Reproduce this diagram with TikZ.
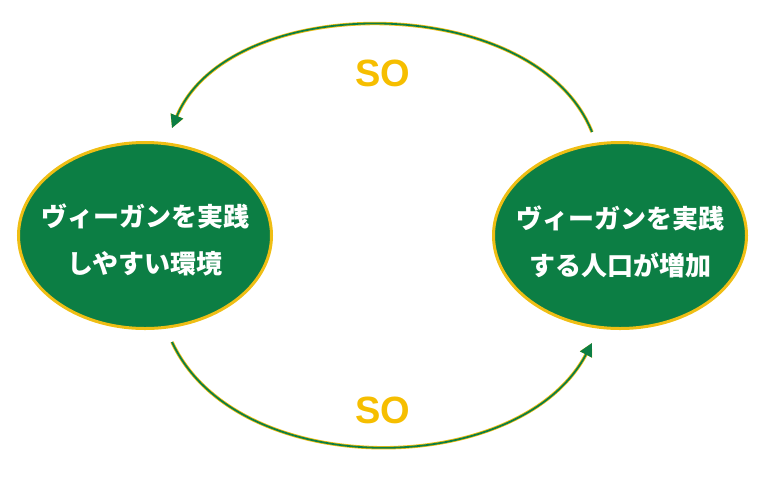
\documentclass[tikz,border=0pt]{standalone}
\usepackage{fontspec}
\setmainfont{Liberation Sans}
\newfontfamily\jpfont{Noto Sans CJK JP}
\usetikzlibrary{shapes.geometric,arrows.meta}
\definecolor{vgreen}{HTML}{0C7E44}
\definecolor{vyellow}{HTML}{EFBE14}
\definecolor{sogold}{HTML}{F6BE00}
\tikzset{
  stage/.style={ellipse, draw=vyellow, line width=3pt, fill=vgreen,
    minimum width=253pt, minimum height=186pt, inner sep=0pt},
  stagetext/.style={text=white, inner sep=0pt,
    font=\jpfont\bfseries\fontsize{26}{47}\selectfont, align=center},
  solabel/.style={text=sogold, font=\bfseries\fontsize{38}{40}\selectfont, inner sep=0pt},
  flow/.style={draw=vgreen, line width=1.8pt,
    -{Triangle[length=13pt,width=13pt]},
    preaction={draw=vyellow, line width=3.4pt, -{Triangle[length=13pt,width=13pt]}}}
}
\begin{document}
\begin{tikzpicture}[x=1pt,y=-1pt]
\useasboundingbox (0,0) rectangle (759,482);
\node[stage] (L) at (145,235.5) {};
\node[stage] (R) at (620,235.5) {};
\node[stagetext] (Lt) at ([yshift=-4pt]L.center) {ヴィーガンを実践\\しやすい環境};
\node[stagetext] (Rt) at ([yshift=-6pt]R.center) {ヴィーガンを実践\\する人口が増加};
\path (R.north) ++(-28,-9) coordinate (t1);
\path (L.north) ++(27,-13) coordinate (t2);
\path (L.south) ++(27,12) coordinate (b1);
\path (R.south) ++(-28,13) coordinate (b2);
\draw[flow] (t1) .. controls (535,-10) and (229,-10) .. (t2);
\draw[flow] (b1) .. controls (237,482) and (520,480) .. (b2);
\node[solabel] (so1) at (383,73) {SO};
\node[solabel] (so2) at (383,410) {SO};
\end{tikzpicture}
\end{document}
